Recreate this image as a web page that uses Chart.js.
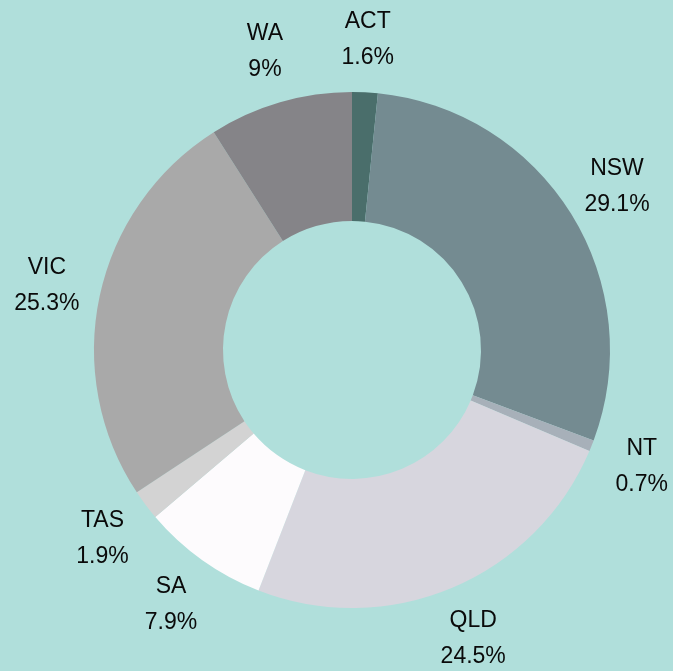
<!DOCTYPE html>
<html>
<head>
<meta charset="UTF-8">
<script src="https://cdn.jsdelivr.net/npm/chart.js@4.4.0/dist/chart.umd.min.js"></script>
<style>
  * { margin: 0; padding: 0; }
  body { background: #b0dfdb; width: 673px; height: 671px; overflow: hidden; }
  canvas { display: block; }
</style>
</head>
<body>
<canvas id="pie" width="673" height="671"></canvas>
<script>
// states and their share (%)
const states = ['ACT', 'NSW', 'NT', 'QLD', 'SA', 'TAS', 'VIC', 'WA']
const shares = [1.6, 29.1, 0.7, 24.5, 7.9, 1.9, 25.3, 9]
const colors = ['#4a6e6b', '#748b91', '#a7b0b9', '#d7d6de', '#fdfbfd', '#d3d3d3', '#a9a9a9', '#858488']

// labels outside each slice: name on top, percent below
const outerLabels = {
  id: 'outerLabels',
  afterDraw(chart) {
    const ctx = chart.ctx
    const meta = chart.getDatasetMeta(0)
    ctx.save()
    ctx.font = '23px "Liberation Sans", Arial, sans-serif'
    ctx.fillStyle = '#0a0a0a'
    ctx.textAlign = 'center'
    ctx.textBaseline = 'middle'
    meta.data.forEach((arc, i) => {
      const { x, y, startAngle, endAngle, outerRadius } = arc.getProps(['x', 'y', 'startAngle', 'endAngle', 'outerRadius'], true)
      const mid = (startAngle + endAngle) / 2
      const r = outerRadius + 54
      const cx = x + Math.cos(mid) * r
      const cy = y + Math.sin(mid) * r
      ctx.fillText(states[i], cx, cy - 17)
      ctx.fillText(shares[i] + '%', cx, cy + 19)
    })
    ctx.restore()
  }
}

new Chart(document.getElementById('pie'), {
  type: 'doughnut',
  data: {
    labels: states,
    datasets: [{ data: shares, backgroundColor: colors, borderWidth: 0 }]
  },
  options: {
    responsive: false,
    animation: false,
    cutout: '50%',
    layout: { padding: { left: 94, right: 63, top: 92, bottom: 63 } },
    plugins: { legend: { display: false }, tooltip: { enabled: false } }
  },
  plugins: [outerLabels]
})
</script>
</body>
</html>
